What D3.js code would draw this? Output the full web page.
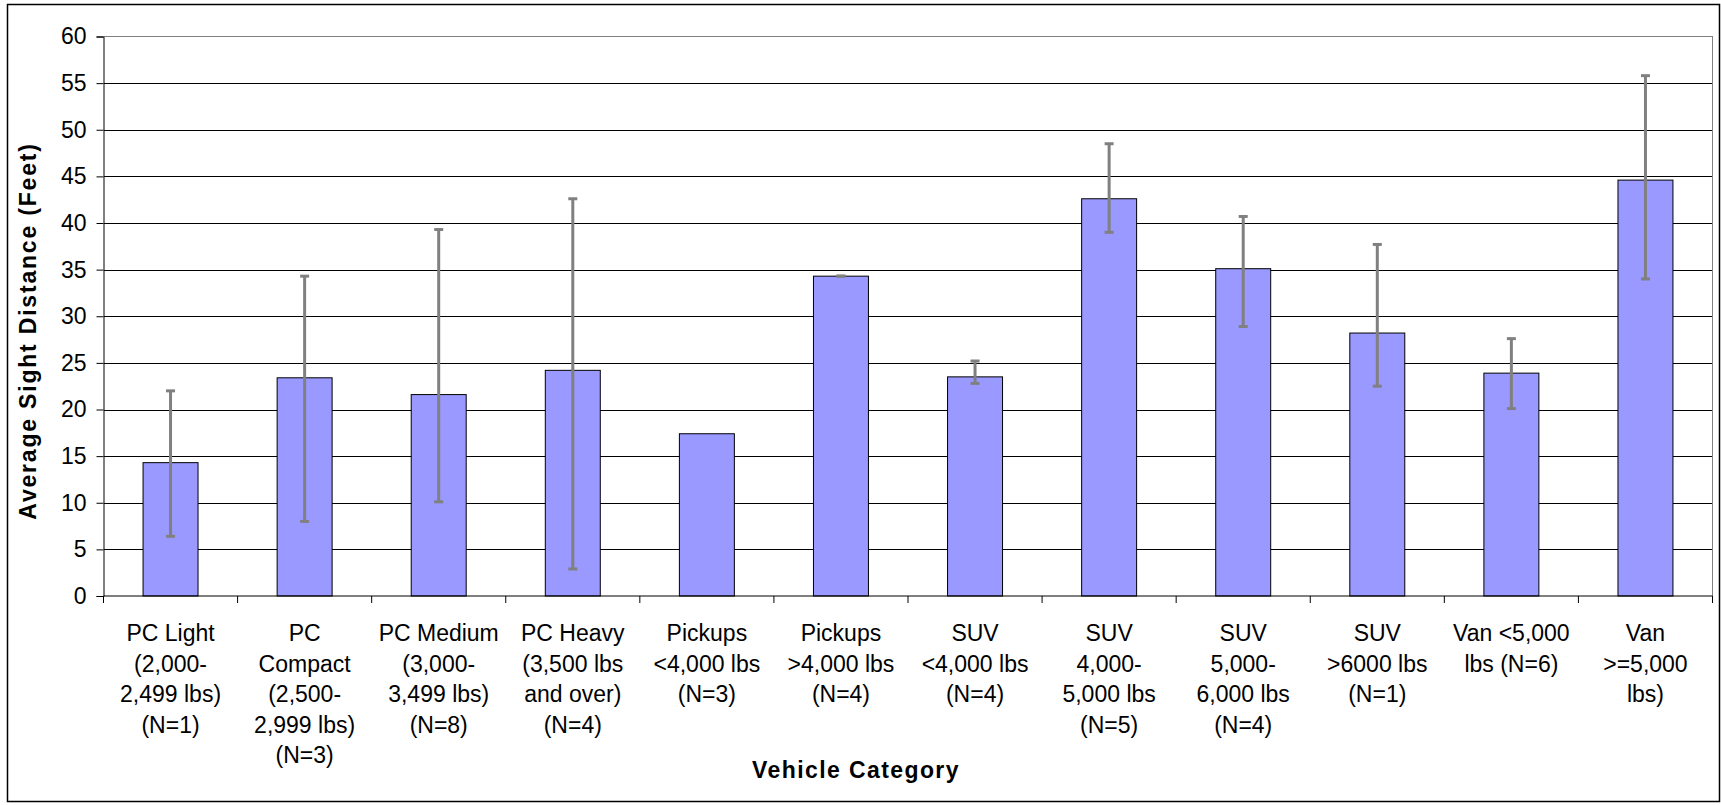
<!DOCTYPE html>
<html lang="en">
<head>
<meta charset="UTF-8">
<title>Average Sight Distance by Vehicle Category</title>
<style>
    body {
        margin: 0;
        background: #ffffff;
        font-family: "Liberation Sans", Arial, Helvetica, sans-serif;
    }
    .tick-label { font-size: 23px; fill: #000; }
    .axis-title { font-size: 23px; font-weight: bold; fill: #000; }
</style>
</head>
<body>
<div id="chart"></div>
<script src="https://d3js.org/d3.v7.min.js"></script>
<script>
// --- data ---
const categoryLines = [
    ["PC Light", "(2,000-", "2,499 lbs)", "(N=1)"],
    ["PC", "Compact", "(2,500-", "2,999 lbs)", "(N=3)"],
    ["PC Medium", "(3,000-", "3,499 lbs)", "(N=8)"],
    ["PC Heavy", "(3,500 lbs", "and over)", "(N=4)"],
    ["Pickups", "<4,000 lbs", "(N=3)"],
    ["Pickups", ">4,000 lbs", "(N=4)"],
    ["SUV", "<4,000 lbs", "(N=4)"],
    ["SUV", "4,000-", "5,000 lbs", "(N=5)"],
    ["SUV", "5,000-", "6,000 lbs", "(N=4)"],
    ["SUV", ">6000 lbs", "(N=1)"],
    ["Van <5,000", "lbs (N=6)"],
    ["Van", ">=5,000", "lbs)"]
];
const categories = categoryLines.map(l => l.join(" "));
const avgDistance = [14.3, 23.4, 21.6, 24.2, 17.4, 34.3, 23.5, 42.6, 35.1, 28.2, 23.9, 44.6];
const errHigh = [22.0, 34.3, 39.3, 42.6, null, 34.3, 25.2, 48.5, 40.7, 37.7, 27.6, 55.8];
const errLow  = [6.4, 8.0, 10.1, 2.9, null, 34.3, 22.8, 39.0, 28.9, 22.5, 20.1, 34.0];
const yTicks = [0, 5, 10, 15, 20, 25, 30, 35, 40, 45, 50, 55, 60];
const yTitle = "Average Sight Distance (Feet)";
const xTitle = "Vehicle Category";

// --- layout ---
const W = 1721, H = 805;
const plot = {left: 103.5, right: 1712.5, top: 36.5, bottom: 596};

const svg = d3.select("#chart").append("svg")
    .attr("width", W)
    .attr("height", H);

// outer chart border
svg.append("rect")
    .attr("x", 7.5).attr("y", 4.5)
    .attr("width", 1712).attr("height", 797)
    .attr("fill", "none")
    .attr("stroke", "#000")
    .attr("stroke-width", 1.5);

const x = d3.scaleBand()
    .domain(categories)
    .range([plot.left, plot.right])
    .padding(0);

const y = d3.scaleLinear()
    .domain([0, 60])
    .range([plot.bottom, plot.top]);

const barW = x.bandwidth() * 0.41;

// gridlines
svg.append("g")
    .attr("transform", `translate(${plot.left},0)`)
    .call(d3.axisLeft(y).tickValues(yTicks.filter(v => v > 0 && v < 60)).tickSize(-(plot.right - plot.left)).tickFormat(""))
    .call(g => g.select(".domain").remove())
    .call(g => g.selectAll("line").attr("stroke", "#000").attr("shape-rendering", "crispEdges"));

// plot area border (top + right, gray)
svg.append("path")
    .attr("d", `M${plot.left},${y(60)}H${plot.right}V${y(0)}`)
    .attr("fill", "none")
    .attr("stroke", "#808080")
    .attr("stroke-width", 1.5)
    .attr("shape-rendering", "crispEdges");

// bars
svg.append("g").selectAll("rect")
    .data(categories)
    .join("rect")
    .attr("x", d => x(d) + (x.bandwidth() - barW) / 2)
    .attr("y", (d, i) => y(avgDistance[i]))
    .attr("width", barW)
    .attr("height", (d, i) => y(0) - y(avgDistance[i]))
    .attr("fill", "#9999ff")
    .attr("stroke", "#000")
    .attr("stroke-width", 1);

// error bars
const errG = svg.append("g")
    .attr("stroke", "#808080")
    .attr("stroke-width", 3);
categories.forEach((c, i) => {
    if (errHigh[i] == null) return;
    const cx = x(c) + x.bandwidth() / 2;
    errG.append("line")
        .attr("x1", cx).attr("x2", cx)
        .attr("y1", y(errHigh[i])).attr("y2", y(errLow[i]));
    [errHigh[i], errLow[i]].forEach(v => {
        errG.append("line")
            .attr("x1", cx - 4.5).attr("x2", cx + 4.5)
            .attr("y1", y(v)).attr("y2", y(v));
    });
});

// y axis
svg.append("g")
    .attr("transform", `translate(${plot.left},0)`)
    .call(d3.axisLeft(y).tickValues(yTicks).tickSize(7).tickPadding(10))
    .call(g => g.select(".domain").attr("stroke", "#000"))
    .call(g => g.selectAll("line").attr("stroke", "#000"))
    .call(g => g.selectAll("text")
        .attr("class", "tick-label")
        .attr("font-family", null)
        .attr("font-size", null));

// x axis: line with ticks between categories
const xAxis = svg.append("g");
xAxis.append("line")
    .attr("x1", plot.left).attr("x2", plot.right)
    .attr("y1", y(0)).attr("y2", y(0))
    .attr("stroke", "#000");
const bounds = categories.map(c => x(c)).concat([x.range()[1]]);
xAxis.selectAll(".xtick")
    .data(bounds)
    .join("line")
    .attr("class", "xtick")
    .attr("x1", d => d).attr("x2", d => d)
    .attr("y1", y(0)).attr("y2", y(0) + 7)
    .attr("stroke", "#000");

// category labels
const lineH = 30.6;
const labelG = svg.append("g");
categories.forEach((c, i) => {
    const t = labelG.append("text")
        .attr("class", "tick-label")
        .attr("text-anchor", "middle")
        .attr("x", x(c) + x.bandwidth() / 2)
        .attr("y", 641);
    categoryLines[i].forEach((s, k) => {
        t.append("tspan")
            .attr("x", x(c) + x.bandwidth() / 2)
            .attr("y", 641 + k * lineH)
            .text(s);
    });
});

// axis titles
svg.append("text")
    .attr("class", "axis-title")
    .attr("text-anchor", "middle")
    .attr("x", 856)
    .attr("y", 778)
    .style("letter-spacing", "1.4px")
    .text(xTitle);

svg.append("text")
    .attr("class", "axis-title")
    .attr("text-anchor", "middle")
    .attr("transform", "translate(36,331) rotate(-90)")
    .style("letter-spacing", "1.8px")
    .text(yTitle);
</script>
</body>
</html>
